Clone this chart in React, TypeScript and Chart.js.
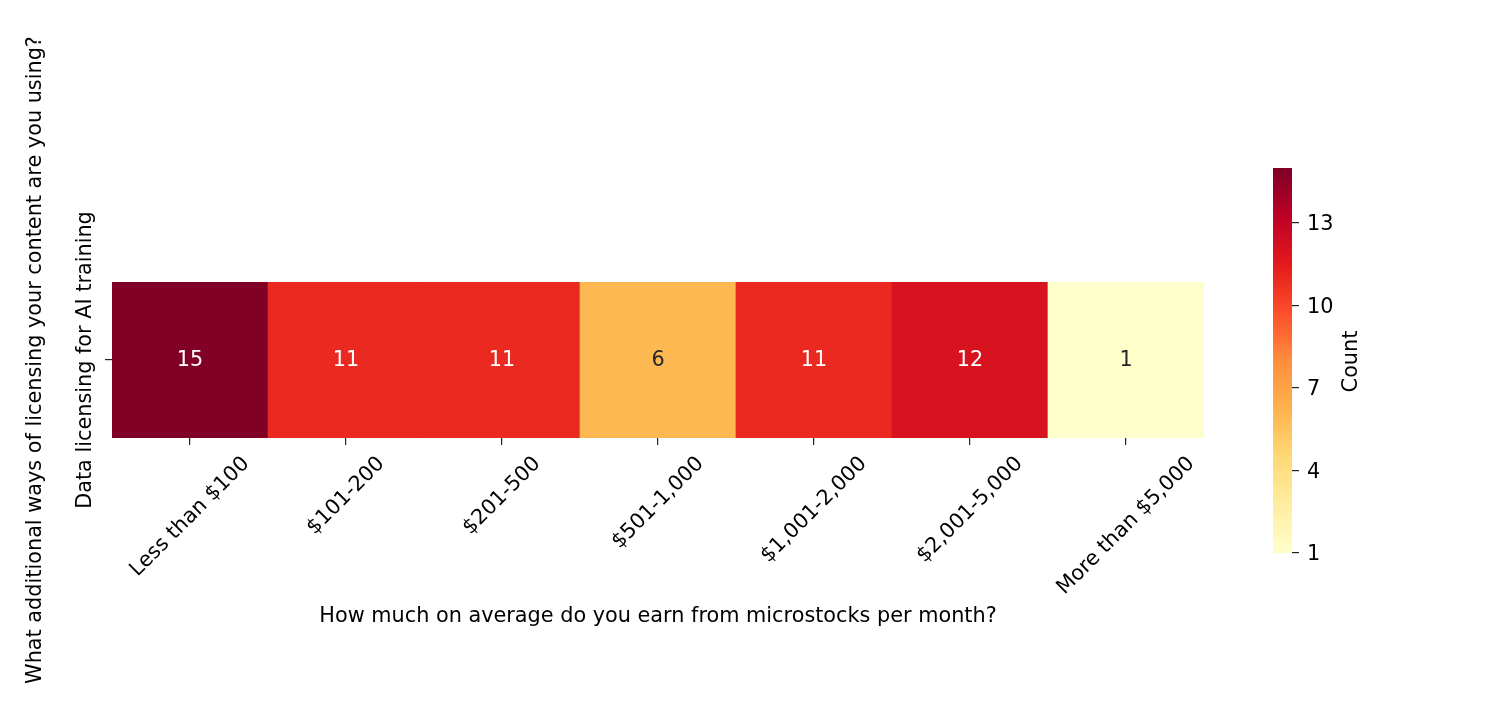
import React, { useEffect, useRef } from 'react';
import { Chart, registerables } from 'chart.js';

Chart.register(...registerables);

// ---- data ----
const incomeCategories = [
  'Less than $100',
  '$101-200',
  '$201-500',
  '$501-1,000',
  '$1,001-2,000',
  '$2,001-5,000',
  'More than $5,000',
];
const licensingCategories = ['Data licensing for AI training'];
const counts = [15, 11, 11, 6, 11, 12, 1];
const colorbarTicks = [1, 4, 7, 10, 13];
const colorMin = 1;
const colorMax = 15;
const xTitle = 'How much on average do you earn from microstocks per month?';
const yTitle = 'What additional ways of licensing your content are you using?';
const colorbarTitle = 'Count';

// ---- styles ----
const FONT = 'DejaVu Sans';
const FS = 20.8;
const YLORRD = ['#ffffcc', '#ffeda0', '#fed976', '#feb24c', '#fd8d3c', '#fc4e2a', '#e31a1c', '#bd0026', '#800026'];

function hexToRgb(h: string): number[] {
  const n = parseInt(h.slice(1), 16);
  return [(n >> 16) & 255, (n >> 8) & 255, n & 255];
}
function cmap(v: number): number[] {
  let t = (v - colorMin) / (colorMax - colorMin);
  t = Math.max(0, Math.min(1, t));
  const pos = t * (YLORRD.length - 1);
  const i = Math.min(Math.floor(pos), YLORRD.length - 2);
  const f = pos - i;
  const a = hexToRgb(YLORRD[i]);
  const b = hexToRgb(YLORRD[i + 1]);
  return a.map((c, k) => Math.round(c + (b[k] - c) * f));
}
function cmapCss(v: number): string {
  const [r, g, b] = cmap(v);
  return `rgb(${r},${g},${b})`;
}
function textColorFor(v: number): string {
  const [r, g, b] = cmap(v).map((c) => {
    const s = c / 255;
    return s <= 0.03928 ? s / 12.92 : Math.pow((s + 0.055) / 1.055, 2.4);
  });
  const lum = 0.2126 * r + 0.7152 * g + 0.0722 * b;
  return lum > 0.408 ? '#262626' : '#ffffff';
}

const heatmapTextPlugin = {
  id: 'heatmapText',
  afterDraw(chart: any) {
    const ctx = chart.ctx;
    const area = chart.chartArea;
    const meta = chart.getDatasetMeta(0);
    ctx.save();
    ctx.font = `${FS}px "${FONT}"`;
    ctx.textAlign = 'center';
    ctx.textBaseline = 'middle';
    // cell annotations
    meta.data.forEach((el: any, i: number) => {
      ctx.fillStyle = textColorFor(counts[i]);
      ctx.fillText(String(counts[i]), el.x, (el.y + el.base) / 2 + 1);
    });
    // x tick labels, rotated 45°, centred on tick
    ctx.fillStyle = '#000';
    const xs = chart.scales.x;
    const lineH = FS * 1.17;
    incomeCategories.forEach((lab, i) => {
      const px = xs.getPixelForTick(i);
      const w = ctx.measureText(lab).width;
      const top = area.bottom + 14;
      const cy = top + ((w + lineH) * Math.SQRT1_2) / 2;
      ctx.save();
      ctx.translate(px, cy);
      ctx.rotate(-Math.PI / 4);
      ctx.fillText(lab, 0, 0);
      ctx.restore();
    });
    // y tick label, rotated 90°
    const ys = chart.scales.y;
    const py = ys.getPixelForValue(0.5);
    ctx.save();
    ctx.translate(area.left - 26, py);
    ctx.rotate(-Math.PI / 2);
    ctx.fillText(licensingCategories[0], 0, 0);
    ctx.restore();
    ctx.restore();
  },
};

const colorbarTitlePlugin = {
  id: 'cbTitle',
  afterDraw(chart: any) {
    const ctx = chart.ctx;
    const area = chart.chartArea;
    ctx.save();
    ctx.font = `${FS}px "${FONT}"`;
    ctx.fillStyle = '#000';
    ctx.textAlign = 'center';
    ctx.textBaseline = 'middle';
    ctx.translate(area.right + 60, (area.top + area.bottom) / 2 + 1);
    ctx.rotate(-Math.PI / 2);
    ctx.fillText(colorbarTitle, 0, 0);
    ctx.restore();
  },
};

export default function App() {
  const mainRef = useRef<HTMLCanvasElement>(null);
  const cbRef = useRef<HTMLCanvasElement>(null);

  useEffect(() => {
    const main = new Chart(mainRef.current as HTMLCanvasElement, {
      type: 'bar',
      data: {
        labels: incomeCategories,
        datasets: [
          {
            label: licensingCategories[0],
            data: counts.map(() => [0, 1]) as any,
            backgroundColor: counts.map((v) => cmapCss(v)),
            borderWidth: 0,
            barPercentage: 1,
            categoryPercentage: 1,
          },
        ],
      },
      options: {
        animation: false,
        responsive: false,
        layout: { padding: { top: 282, right: 296, left: 0, bottom: 0 } },
        plugins: { legend: { display: false }, tooltip: { enabled: false } },
        scales: {
          x: {
            type: 'category',
            offset: true,
            grid: { offset: false, drawOnChartArea: false, drawTicks: true, tickLength: 7, color: '#222', lineWidth: 1.2 },
            border: { display: false },
            ticks: { display: false },
            title: { display: true, text: xTitle, color: '#000', font: { family: FONT, size: FS }, padding: { top: 0, bottom: 99 } },
            afterFit: (s: any) => { s.height = 290; },
          },
          y: {
            type: 'linear',
            min: 0,
            max: 1,
            afterBuildTicks: (s: any) => { s.ticks = [{ value: 0.5 }]; },
            grid: { drawOnChartArea: false, drawTicks: true, tickLength: 7, color: '#222', lineWidth: 1.2 },
            border: { display: false },
            ticks: { display: false },
            title: { display: true, text: yTitle, color: '#000', font: { family: FONT, size: FS }, padding: { top: 23, bottom: 0 } },
            afterFit: (s: any) => { s.width = 112; },
          },
        },
      },
      plugins: [heatmapTextPlugin],
    } as any);

    const cb = new Chart(cbRef.current as HTMLCanvasElement, {
      type: 'bar',
      data: {
        labels: [colorbarTitle],
        datasets: [
          {
            data: [[colorMin, colorMax]] as any,
            backgroundColor: (c: any) => {
              const chart = c.chart;
              const ys = chart.scales && chart.scales.y;
              if (!chart.chartArea || !ys) return YLORRD[0];
              const g = chart.ctx.createLinearGradient(0, ys.getPixelForValue(colorMin), 0, ys.getPixelForValue(colorMax));
              YLORRD.forEach((col, i) => g.addColorStop(i / (YLORRD.length - 1), col));
              return g;
            },
            borderWidth: 0,
            barPercentage: 1,
            categoryPercentage: 1,
          },
        ],
      },
      options: {
        animation: false,
        responsive: false,
        layout: { padding: { top: 168, bottom: 175, left: 0, right: 0 } },
        plugins: { legend: { display: false }, tooltip: { enabled: false } },
        scales: {
          x: { display: false },
          y: {
            type: 'linear',
            position: 'right',
            min: colorMin,
            max: colorMax,
            afterBuildTicks: (s: any) => { s.ticks = colorbarTicks.map((v) => ({ value: v })); },
            grid: { drawOnChartArea: false, drawTicks: true, tickLength: 7, color: '#222', lineWidth: 1.2 },
            border: { display: false },
            ticks: { color: '#000', font: { family: FONT, size: FS }, padding: 8, labelOffset: 2 },
            afterFit: (s: any) => { s.width = 141; },
          },
        },
      },
      plugins: [colorbarTitlePlugin],
    } as any);

    return () => {
      main.destroy();
      cb.destroy();
    };
  }, []);

  return (
    <div style={{ position: 'relative', width: 1500, height: 728, margin: -8 }}>
      <canvas ref={mainRef} width={1500} height={728} style={{ position: 'absolute', left: 0, top: 0 }} />
      <canvas ref={cbRef} width={160} height={728} style={{ position: 'absolute', left: 1273, top: 0 }} />
    </div>
  );
}
